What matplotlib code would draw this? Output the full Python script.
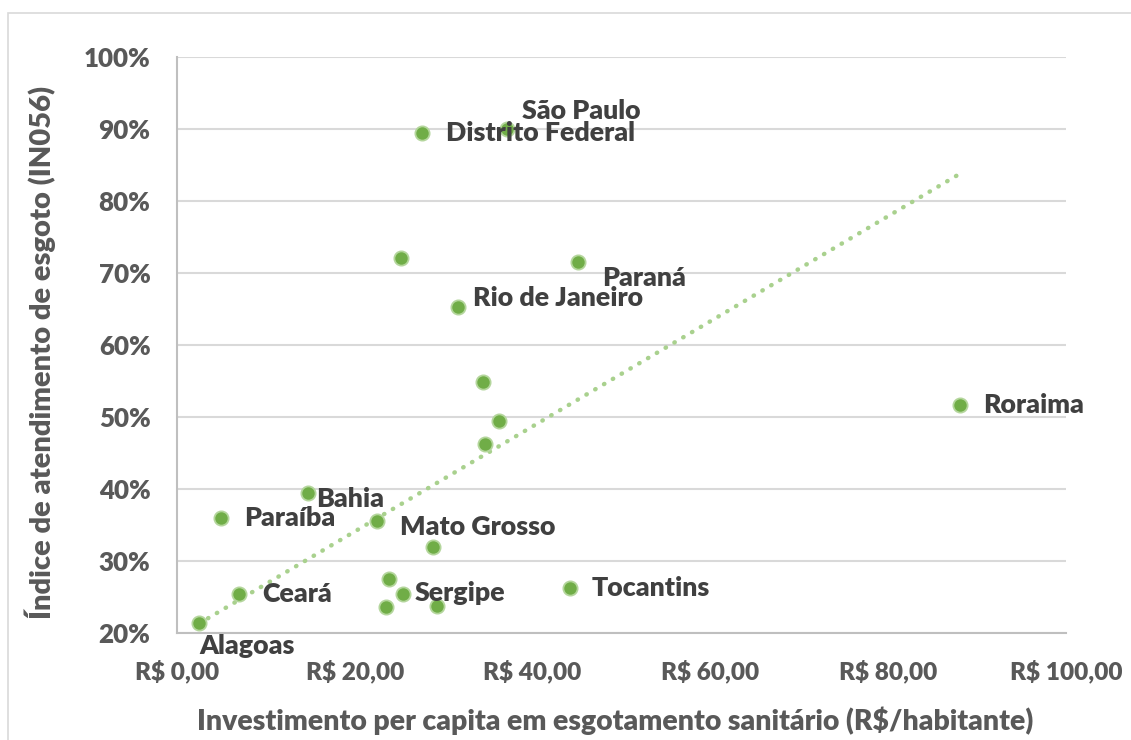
import matplotlib
matplotlib.use("Agg")
import matplotlib.pyplot as plt
from matplotlib.patches import Rectangle
import numpy as np

# ---- data ----
invest = [2.5, 7.0, 4.9, 14.7, 22.5, 28.8, 23.8, 25.4, 23.5, 29.2,
          44.2, 34.4, 36.2, 34.7, 27.6, 37.1, 25.2, 45.1, 31.6, 88.1]
atend = [21.4, 25.4, 36.0, 39.5, 35.5, 32.0, 27.5, 25.4, 23.6, 23.7,
         26.3, 54.8, 49.5, 46.3, 89.4, 90.0, 72.1, 71.5, 65.3, 51.6]
names = ["Alagoas", "Ceará", "Paraíba", "Bahia", "Mato Grosso", "", "", "Sergipe", "", "",
         "Tocantins", "", "", "", "Distrito Federal", "São Paulo", "", "Paraná", "Rio de Janeiro", "Roraima"]
# linear trendline (y = intercept + slope * x)
trend_intercept = 19.5
trend_slope = 0.73

x_ticks = [0, 20, 40, 60, 80, 100]
x_ticklabels = ["R$ 0,00", "R$ 20,00", "R$ 40,00", "R$ 60,00", "R$ 80,00", "R$ 100,00"]
y_ticks = [20, 30, 40, 50, 60, 70, 80, 90, 100]
y_ticklabels = ["20%", "30%", "40%", "50%", "60%", "70%", "80%", "90%", "100%"]

# label offsets in pixels (dx, dy) and alignment
label_style = {
    "Alagoas": (0, -23, "left"),
    "Ceará": (23, 0, "left"),
    "Paraíba": (24, 0, "left"),
    "Bahia": (8, -6, "left"),
    "Mato Grosso": (23, -6, "left"),
    "Sergipe": (12, 1, "left"),
    "Tocantins": (22, 0, "left"),
    "Distrito Federal": (24, 0, "left"),
    "São Paulo": (15, 18, "left"),
    "Paraná": (24, -16, "left"),
    "Rio de Janeiro": (15, 9, "left"),
    "Roraima": (23, 0, "left"),
}

plt.rcParams['font.family'] = ['Lato', 'DejaVu Sans']
plt.rcParams['font.weight'] = 'bold'

W, H = 1131, 740
fig = plt.figure(figsize=(W / 100, H / 100), dpi=100)
fig.patch.set_facecolor("white")

# outer chart frame
fig.patches.append(Rectangle((8 / W, 0 - 0.01), 1.2, 1 - 13 / H + 0.01, transform=fig.transFigure,
                             fill=False, edgecolor="#d9d9d9", linewidth=1.2, zorder=0))

ax = fig.add_axes([177 / W, 1 - 633 / H, (1066 - 177) / W, (633 - 57) / H])
ax.set_xlim(0, 100)
ax.set_ylim(20, 100)

ax.set_yticks(y_ticks)
ax.set_yticklabels(y_ticklabels)
ax.set_xticks(x_ticks)
ax.set_xticklabels(x_ticklabels)

ax.grid(axis="y", color="#d9d9d9", linewidth=1.5, zorder=0)
ax.set_axisbelow(True)
for s in ["top", "right"]:
    ax.spines[s].set_visible(False)
for s in ["left", "bottom"]:
    ax.spines[s].set_color("#bfbfbf")
    ax.spines[s].set_linewidth(1.5)

ax.tick_params(axis="both", length=0, labelcolor="#595959")
ax.tick_params(axis="y", pad=19, labelsize=18.7)
ax.tick_params(axis="x", pad=19, labelsize=17.6)
for lab in ax.get_xticklabels() + ax.get_yticklabels():
    lab.set_fontweight("heavy")

# trendline
xs = np.array([min(invest), max(invest)])
ax.plot(xs, trend_intercept + trend_slope * xs, linestyle=(0, (0.1, 2.2)), dash_capstyle="round",
        color="#a9d18e", linewidth=3.2, zorder=2)

# points
ax.scatter(invest, atend, s=105, color="#70ad47", edgecolors="#b4d69c", linewidths=1.3, zorder=3,
           clip_on=False)

for x, y, n in zip(invest, atend, names):
    if not n:
        continue
    dx, dy, ha = label_style[n]
    ax.annotate(n, (x, y), xytext=(dx * 0.72, dy * 0.72), textcoords="offset points",
                ha=ha, va="center", fontsize=19.3, fontweight="heavy", color="#404040", zorder=4,
                annotation_clip=False)

ax.set_xlabel("Investimento per capita em esgotamento sanitário (R$/habitante)",
              fontsize=20.4, fontweight="heavy", color="#595959", va="center")
ax.set_ylabel("Índice de atendimento de esgoto (IN056)",
              fontsize=21, fontweight="heavy", color="#595959", va="center")
ax.xaxis.set_label_coords((615 - 177) / (1066 - 177), -(721 - 633) / (633 - 57))
ax.yaxis.set_label_coords(-(177 - 40) / (1066 - 177), (633 - 352) / (633 - 57))

fig.savefig("out.png", dpi=100)
